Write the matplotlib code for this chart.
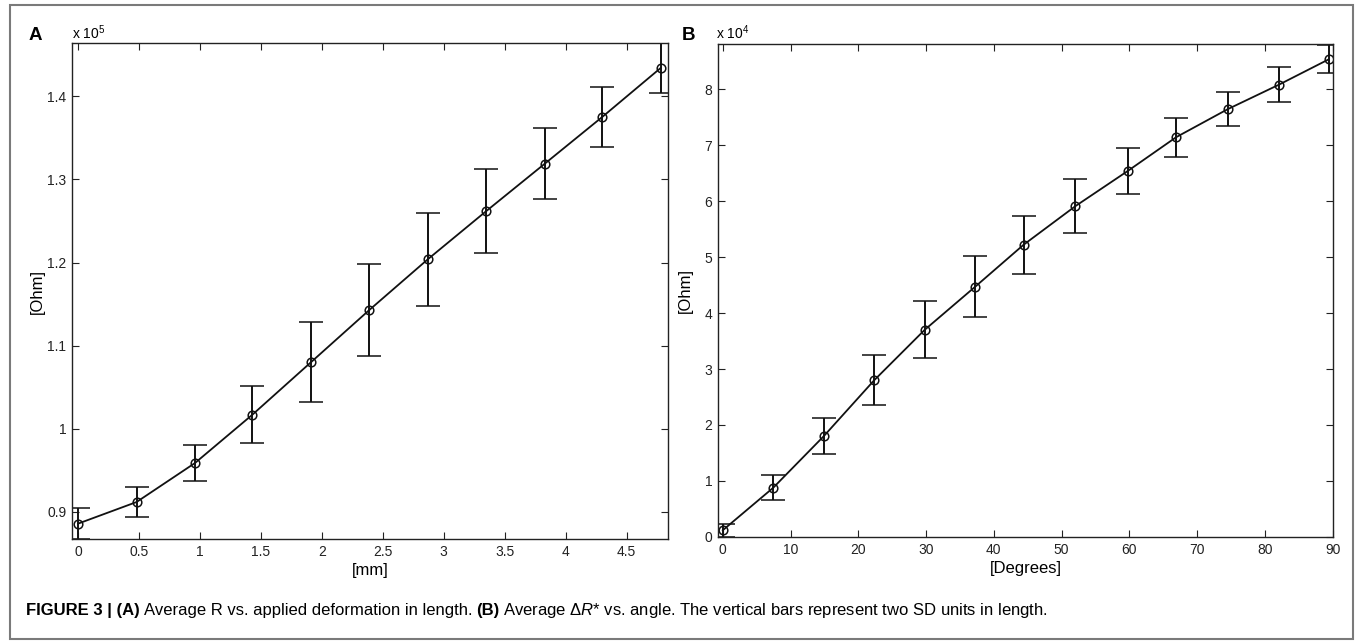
import matplotlib.pyplot as plt
from matplotlib.patches import Rectangle

plt.rcParams['font.family'] = ['Liberation Sans', 'DejaVu Sans']
plt.rcParams['mathtext.fontset'] = 'custom'
plt.rcParams['mathtext.rm'] = 'Liberation Sans'
plt.rcParams['mathtext.it'] = 'Liberation Sans:italic'

# Panel A: resistance (x 1e5 Ohm) vs. deformation in mm
x_mm = [0, 0.48, 0.96, 1.43, 1.91, 2.39, 2.87, 3.35, 3.83, 4.30, 4.78]
r_mm = [0.886, 0.912, 0.959, 1.017, 1.080, 1.143, 1.204, 1.262, 1.319, 1.375, 1.434]
sd_mm = [0.0185, 0.018, 0.022, 0.034, 0.048, 0.055, 0.056, 0.051, 0.043, 0.036, 0.030]

# Panel B: delta R (x 1e4 Ohm) vs. angle in degrees
x_deg = [0, 7.45, 14.9, 22.35, 29.8, 37.25, 44.4, 52.05, 59.8, 66.9, 74.5, 82.1, 89.4]
r_deg = [0.12, 0.88, 1.80, 2.80, 3.70, 4.47, 5.22, 5.91, 6.54, 7.14, 7.64, 8.08, 8.53]
sd_deg = [0.12, 0.22, 0.32, 0.45, 0.51, 0.54, 0.52, 0.48, 0.41, 0.35, 0.30, 0.31, 0.25]

xticks_mm = [0, 0.5, 1, 1.5, 2, 2.5, 3, 3.5, 4, 4.5]
yticks_mm = [0.9, 1, 1.1, 1.2, 1.3, 1.4]
xticks_deg = [0, 10, 20, 30, 40, 50, 60, 70, 80, 90]
yticks_deg = [0, 1, 2, 3, 4, 5, 6, 7, 8]

fig = plt.figure(figsize=(13.58, 6.42), dpi=100)

# outer frame
fig.patches.append(Rectangle((10 / 1358, 3 / 642), 1343 / 1358, 634 / 642,
                             transform=fig.transFigure, fill=False,
                             edgecolor='#7a7a7a', linewidth=1.5))

ax1 = fig.add_axes([0.0530, 0.1604, 0.4389, 0.7726])
ax2 = fig.add_axes([0.5285, 0.1636, 0.4533, 0.7674])


def style(ax, xt, yt, ylabels):
    ax.set_xticks(xt)
    ax.set_yticks(yt)
    ax.set_xticklabels([('%g' % v) for v in xt])
    ax.set_yticklabels(ylabels)
    ax.tick_params(direction='in', top=True, right=True, length=5,
                   width=0.8, labelsize=10, pad=4, colors='#222222')
    for s in ax.spines.values():
        s.set_linewidth(1.0)
        s.set_color('#222222')


ax1.errorbar(x_mm, r_mm, yerr=sd_mm, color='#111111', lw=1.3, marker='o',
             markersize=6.2, markerfacecolor='none', markeredgewidth=1.1,
             capsize=8.5, capthick=1.4, elinewidth=1.4)
ax1.set_xlim(-0.05, 4.84)
ax1.set_ylim(0.8675, 1.464)
style(ax1, xticks_mm, yticks_mm, ['0.9', '1', '1.1', '1.2', '1.3', '1.4'])
ax1.set_xlabel('[mm]', fontsize=12, labelpad=3)
ax1.set_ylabel('[Ohm]', fontsize=12, labelpad=2)

ax2.errorbar(x_deg, r_deg, yerr=sd_deg, color='#111111', lw=1.3, marker='o',
             markersize=6.2, markerfacecolor='none', markeredgewidth=1.1,
             capsize=8.5, capthick=1.4, elinewidth=1.4)
ax2.set_xlim(-0.75, 90.1)
ax2.set_ylim(0, 8.8)
style(ax2, xticks_deg, yticks_deg, [str(v) for v in yticks_deg])
ax2.set_xlabel('[Degrees]', fontsize=12, labelpad=3)
ax2.set_ylabel('[Ohm]', fontsize=12, labelpad=8)

fig.text(29 / 1358, 1 - 35 / 642, 'A', fontsize=13.5, fontweight='bold', va='center')
fig.text(72 / 1358, 1 - 33 / 642, r'x 10$^{5}$', fontsize=10, va='center')
fig.text(682 / 1358, 1 - 35 / 642, 'B', fontsize=13.5, fontweight='bold', va='center')
fig.text(716 / 1358, 1 - 33 / 642, r'x 10$^{4}$', fontsize=10, va='center')

# caption
cy = 1 - 611 / 642
fs = 12
t = fig.text(26 / 1358, cy, 'FIGURE 3 | (A)', fontsize=fs, fontweight='bold', va='center')
fig.canvas.draw()
r = fig.canvas.get_renderer()


def after(txt, s, weight='normal'):
    bb = txt.get_window_extent(r)
    nt = fig.text(bb.x1 / 1358 + 4 / 1358, cy, s, fontsize=fs, fontweight=weight, va='center')
    fig.canvas.draw()
    return nt


t = after(t, 'Average R vs. applied deformation in length.')
t = after(t, '(B)', 'bold')
t = after(t, r'Average $\Delta R$* vs. angle. The vertical bars represent two SD units in length.')

fig.savefig('out.png', dpi=100)
